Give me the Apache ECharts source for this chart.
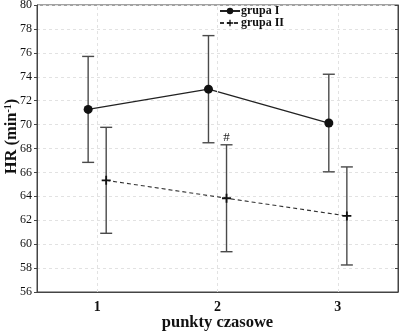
<!DOCTYPE html>
<html>
<head>
<meta charset="utf-8">
<script src="https://cdn.jsdelivr.net/npm/echarts@6/dist/echarts.min.js"></script>
<style>
  html, body { margin: 0; padding: 0; background: #fff; }
  #chart { width: 400px; height: 331px; }
</style>
</head>
<body>
<div id="chart"></div>
<script>
// Time points on the x axis
const categories = ['1', '2', '3'];
// Group means (HR, min^-1) and half-widths of the error bars
const group1Mean = [71.27, 72.96, 70.13];
const group1Err = [4.43, 4.48, 4.08];
const group2Mean = [65.34, 63.84, 62.36];
const group2Err = [4.43, 4.47, 4.10];
const group2Notes = ['', '#', ''];
const seriesNames = ['grupa I', 'grupa II'];
// y-axis range and step
const yMin = 56, yMax = 80, yStep = 2;

const SHIFT = 0.075; // horizontal dodge between the two groups (in category units)
const serif = '"Liberation Serif", "Times New Roman", serif';

function pts(means, shift) {
  return means.map((m, i) => [i + 1 + shift, m]);
}
function barData(means, errs, shift, notes) {
  return means.map((m, i) => [i + 1 + shift, m - errs[i], m + errs[i], notes ? notes[i] : '']);
}

function renderErrorBar(params, api) {
  const x = api.value(0);
  const lo = api.coord([x, api.value(1)]);
  const hi = api.coord([x, api.value(2)]);
  const half = 6;
  const style = { stroke: '#4a4a4a', lineWidth: 1.4 };
  const children = [
    { type: 'line', shape: { x1: lo[0], y1: lo[1], x2: hi[0], y2: hi[1] }, style },
    { type: 'line', shape: { x1: hi[0] - half, y1: hi[1], x2: hi[0] + half, y2: hi[1] }, style },
    { type: 'line', shape: { x1: lo[0] - half, y1: lo[1], x2: lo[0] + half, y2: lo[1] }, style }
  ];
  const note = api.value(3);
  if (note) {
    children.push({
      type: 'text',
      style: { text: note, x: hi[0], y: hi[1] - 1, align: 'center', verticalAlign: 'bottom',
               font: '13px ' + serif, fill: '#222' }
    });
  }
  return { type: 'group', children };
}

const plusPath = 'path://M4,0H6V4H10V6H6V10H4V6H0V4H4Z';

const chart = echarts.init(document.getElementById('chart'), null, { renderer: 'canvas' });
chart.setOption({
  animation: false,
  backgroundColor: '#fff',
  grid: { left: 37, right: 2, top: 5, bottom: 39, show: true, borderColor: '#444', borderWidth: 1,
          containLabel: false, outerBoundsMode: 'none' },
  legend: {
    orient: 'vertical', left: 214, top: 0,
    itemWidth: 20, itemHeight: 8, itemGap: 0,
    textStyle: { fontFamily: serif, fontWeight: 'bold', fontSize: 12, lineHeight: 12, color: '#111', padding: [0, 0, 0, -4] },
    data: seriesNames
  },
  xAxis: [
    {
      type: 'category', data: categories, boundaryGap: true,
      axisLine: { lineStyle: { color: '#444' } },
      axisTick: { alignWithLabel: true, length: 3, lineStyle: { color: '#444' } },
      axisLabel: { fontFamily: serif, fontWeight: 'bold', fontSize: 14, color: '#111', margin: 8 },
      splitLine: { show: false },
      name: 'punkty czasowe', nameLocation: 'middle', nameGap: 22, nameMoveOverlap: false,
      nameTextStyle: { fontFamily: serif, fontWeight: 'bold', fontSize: 16.5, color: '#111' }
    },
    { type: 'value', min: 0.5, max: 3.5, show: false }
  ],
  yAxis: [
    {
      type: 'value', min: yMin, max: yMax, interval: yStep,
      axisLine: { show: true, lineStyle: { color: '#444' } },
      axisTick: { show: true, length: 3, lineStyle: { color: '#444' } },
      axisLabel: { fontFamily: serif, fontSize: 12, color: '#111', margin: 5 },
      splitLine: { lineStyle: { color: '#e2e2e2', type: [3, 3] } },
      name: 'HR (min{sup|-1})', nameLocation: 'middle', nameGap: 17, nameMoveOverlap: false,
      nameTextStyle: {
        fontFamily: serif, fontWeight: 'bold', fontSize: 16.5, color: '#111', padding: [0, 0, 0, 24],
        rich: { sup: { fontFamily: serif, fontWeight: 'bold', fontSize: 10, color: '#111', verticalAlign: 'top', padding: [0, 0, 7, 0] } }
      }
    },
    {
      type: 'value', min: yMin, max: yMax, interval: yStep, position: 'right',
      axisLine: { show: true, lineStyle: { color: '#444' } },
      axisTick: { show: true, inside: true, length: 3, lineStyle: { color: '#444' } },
      axisLabel: { show: false },
      splitLine: { show: false }
    }
  ],
  series: [
    {
      type: 'custom', xAxisIndex: 1, yAxisIndex: 0, z: 1,
      markLine: {
        silent: true, symbol: 'none', label: { show: false },
        lineStyle: { color: '#e2e2e2', type: [3, 3], width: 1 },
        data: categories.map((c, i) => ({ xAxis: i + 1 }))
      },
      data: []
    },
    {
      name: 'errI', type: 'custom', xAxisIndex: 1, yAxisIndex: 0, z: 2,
      renderItem: renderErrorBar,
      encode: { x: 0, y: [1, 2] },
      data: barData(group1Mean, group1Err, -SHIFT)
    },
    {
      name: 'errII', type: 'custom', xAxisIndex: 1, yAxisIndex: 0, z: 2,
      renderItem: renderErrorBar,
      encode: { x: 0, y: [1, 2] },
      data: barData(group2Mean, group2Err, SHIFT, group2Notes)
    },
    {
      name: seriesNames[0], type: 'line', xAxisIndex: 1, yAxisIndex: 0, z: 3,
      data: pts(group1Mean, -SHIFT),
      symbol: 'circle', symbolSize: 9,
      itemStyle: { color: '#111' },
      lineStyle: { color: '#222', width: 1.3 }
    },
    {
      name: seriesNames[1], type: 'line', xAxisIndex: 1, yAxisIndex: 0, z: 3,
      data: pts(group2Mean, SHIFT),
      symbol: plusPath, symbolSize: 9,
      itemStyle: { color: '#111' },
      lineStyle: { color: '#333', width: 1.1, type: [4, 3] }
    }
  ]
});
</script>
</body>
</html>
